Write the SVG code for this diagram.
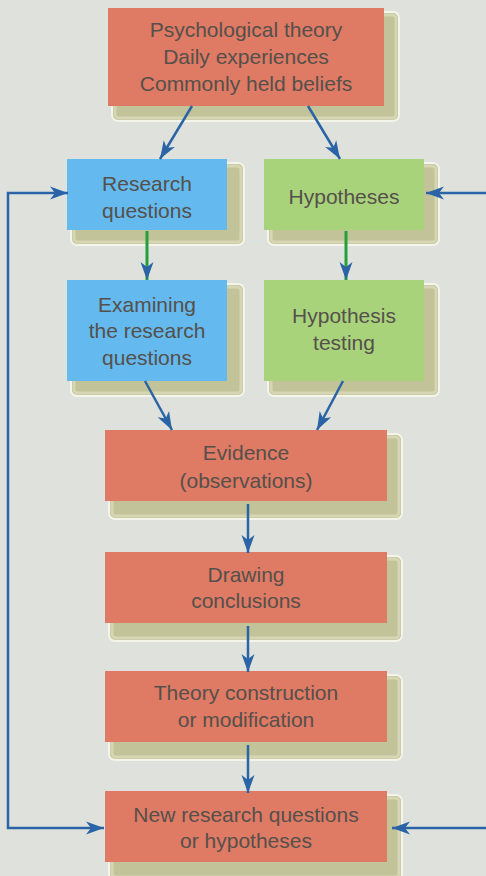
<svg xmlns="http://www.w3.org/2000/svg" width="486" height="876" viewBox="0 0 486 876">
<defs>
<marker id="ah" viewBox="-1 -7 20 14" refX="18" refY="0" markerWidth="20" markerHeight="14" markerUnits="userSpaceOnUse" orient="auto-start-reverse">
<path d="M0,-6.5 L18,0 L0,6.5 L5,0 Z" fill="#2a64a6"/>
</marker>
</defs>
<style>
.sh{fill:#c3c399;stroke:#f4f4ea;stroke-width:2}
.shi{fill:none;stroke:#d6d6b4;stroke-width:3}
.red{fill:#df7a64}
.blue{fill:#64baef}
.green{fill:#a8d37b}
text{font-family:"Liberation Sans",Arial,sans-serif;font-size:21px;fill:#55504b;text-anchor:middle}
.c{fill:none;stroke:#2a64a6;stroke-width:2.5}
.g{fill:none;stroke:#23a03a;stroke-width:3}
</style>
<rect width="486" height="876" fill="#dfe2dc"/>
<g id="sources">
<rect class="sh" x="112" y="12" width="287" height="109" rx="6"/>
<rect class="shi" x="115" y="15" width="281" height="103" rx="4"/>
<rect class="red" x="108" y="8" width="276" height="98"/>
<text x="246" y="37">Psychological theory</text>
<text x="246" y="64">Daily experiences</text>
<text x="246" y="91">Commonly held beliefs</text>
</g>
<g id="research-questions">
<rect class="sh" x="71" y="163" width="173" height="82" rx="6"/>
<rect class="shi" x="74" y="166" width="167" height="76" rx="4"/>
<rect class="blue" x="67" y="159" width="160" height="71"/>
<text x="147" y="191">Research</text>
<text x="147" y="218">questions</text>
</g>
<g id="hypotheses">
<rect class="sh" x="268" y="163" width="171" height="82" rx="6"/>
<rect class="shi" x="271" y="166" width="165" height="76" rx="4"/>
<rect class="green" x="264" y="159" width="160" height="71"/>
<text x="344" y="204">Hypotheses</text>
</g>
<g id="examining">
<rect class="sh" x="71" y="284" width="173" height="112" rx="6"/>
<rect class="shi" x="74" y="287" width="167" height="106" rx="4"/>
<rect class="blue" x="67" y="280" width="160" height="101"/>
<text x="147" y="312">Examining</text>
<text x="147" y="338">the research</text>
<text x="147" y="365">questions</text>
</g>
<g id="hypothesis-testing">
<rect class="sh" x="268" y="284" width="171" height="112" rx="6"/>
<rect class="shi" x="271" y="287" width="165" height="106" rx="4"/>
<rect class="green" x="264" y="280" width="160" height="101"/>
<text x="344" y="323">Hypothesis</text>
<text x="344" y="350">testing</text>
</g>
<g id="evidence">
<rect class="sh" x="109" y="434" width="293" height="85" rx="6"/>
<rect class="shi" x="112" y="437" width="287" height="79" rx="4"/>
<rect class="red" x="105" y="430" width="282" height="71"/>
<text x="246" y="460">Evidence</text>
<text x="246" y="488">(observations)</text>
</g>
<g id="drawing-conclusions">
<rect class="sh" x="109" y="556" width="293" height="85" rx="6"/>
<rect class="shi" x="112" y="559" width="287" height="79" rx="4"/>
<rect class="red" x="105" y="552" width="282" height="71"/>
<text x="246" y="582">Drawing</text>
<text x="246" y="608">conclusions</text>
</g>
<g id="theory-construction">
<rect class="sh" x="109" y="675" width="293" height="85" rx="6"/>
<rect class="shi" x="112" y="678" width="287" height="79" rx="4"/>
<rect class="red" x="105" y="671" width="282" height="71"/>
<text x="246" y="700">Theory construction</text>
<text x="246" y="727">or modification</text>
</g>
<g id="new-research">
<rect class="sh" x="109" y="795" width="293" height="85" rx="6"/>
<rect class="shi" x="112" y="798" width="287" height="79" rx="4"/>
<rect class="red" x="105" y="791" width="282" height="71"/>
<text x="246" y="822">New research questions</text>
<text x="246" y="848">or hypotheses</text>
</g>
<g id="connectors">
<path class="c" d="M192,106 L160,159" marker-end="url(#ah)"/>
<path class="c" d="M308,106 L340,159" marker-end="url(#ah)"/>
<path class="g" d="M147,231 L147,280" marker-end="url(#ah)"/>
<path class="g" d="M346,231 L346,280" marker-end="url(#ah)"/>
<path class="c" d="M145,381 L172,430" marker-end="url(#ah)"/>
<path class="c" d="M343,381 L317,430" marker-end="url(#ah)"/>
<path class="c" d="M248,504 L248,553" marker-end="url(#ah)"/>
<path class="c" d="M248,626 L248,672" marker-end="url(#ah)"/>
<path class="c" d="M248,745 L248,793" marker-end="url(#ah)"/>
<path class="c" d="M68,193 L8,193 L8,828 L104,828" marker-start="url(#ah)" marker-end="url(#ah)"/>
<path class="c" d="M426,193 L492,193 L492,828 L392,828" marker-start="url(#ah)" marker-end="url(#ah)"/>
</g>
</svg>
